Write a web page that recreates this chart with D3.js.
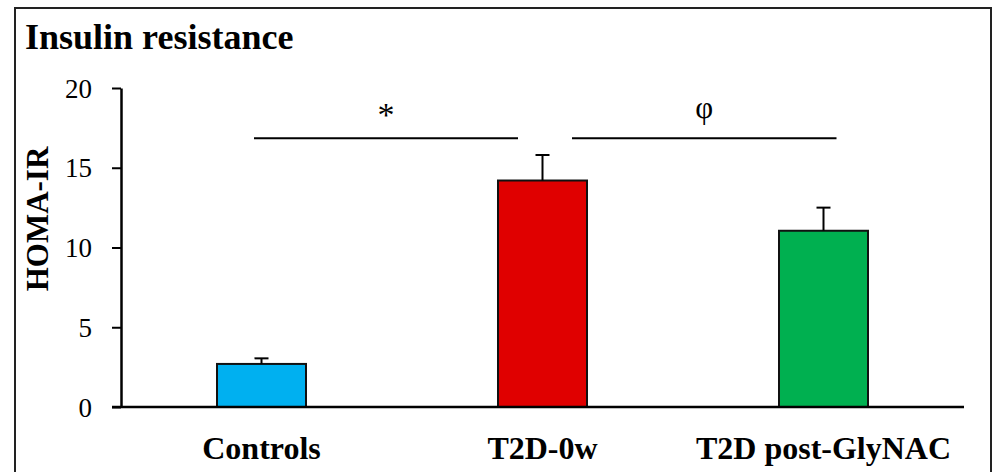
<!DOCTYPE html>
<html>
<head>
<meta charset="utf-8">
<script src="https://cdn.jsdelivr.net/npm/d3@7"></script>
<style>
  body { margin: 0; background: #fff; }
  text { font-family: "Liberation Serif", "Times New Roman", serif; fill: #000; }
</style>
</head>
<body>
<div class="vis-bar"></div>
<script>
const categories = ['Controls', 'T2D-0w', 'T2D post-GlyNAC'];
const means = [2.7, 14.2, 11.05];
const errTops = [3.05, 15.8, 12.5];
const barColors = ['#00B0F0', '#E00000', '#00B050'];
const yTicks = [0, 5, 10, 15, 20];
const brackets = [
    { from: 0, to: 1, level: 16.85, label: '*' },
    { from: 1, to: 2, level: 16.85, label: 'φ' }
];

const W = 1001, H = 472;
const margin = { top: 88, right: 37, bottom: 65, left: 121 };
const width = W - margin.left - margin.right;
const height = H - margin.top - margin.bottom;

const svg = d3.select('.vis-bar')
    .append('svg')
    .attr('width', W)
    .attr('height', H);

// frame round the whole figure
svg.append('rect')
    .attr('x', 15).attr('y', 8)
    .attr('width', 976).attr('height', 470)
    .attr('fill', 'none')
    .attr('stroke', '#222')
    .attr('stroke-width', 2);

svg.append('text')
    .attr('x', 25).attr('y', 49)
    .style('font-size', '36px')
    .style('font-weight', 'bold')
    .text('Insulin resistance');

const g = svg.append('g')
    .attr('transform', 'translate(' + margin.left + ',' + margin.top + ')');

const x = d3.scaleBand()
    .domain(categories)
    .range([0, width])
    .padding(0);

const y = d3.scaleLinear()
    .domain([0, 20])
    .range([height, 0]);

const barW = 89;
const cx = d => x(d) + x.bandwidth() / 2;

// bars
g.selectAll('.bar')
    .data(categories)
    .enter().append('rect')
    .attr('class', 'bar')
    .attr('x', d => cx(d) - barW / 2)
    .attr('y', (d, i) => y(means[i]))
    .attr('width', barW)
    .attr('height', (d, i) => y(0) - y(means[i]))
    .attr('fill', (d, i) => barColors[i])
    .attr('stroke', '#111')
    .attr('stroke-width', 2);

// error bars (upper only)
const capW = 14;
const err = g.selectAll('.err')
    .data(categories)
    .enter().append('g')
    .attr('class', 'err')
    .attr('stroke', '#000')
    .attr('stroke-width', 2);
err.append('line')
    .attr('x1', d => cx(d)).attr('x2', d => cx(d))
    .attr('y1', (d, i) => y(means[i]))
    .attr('y2', (d, i) => y(errTops[i]));
err.append('line')
    .attr('x1', d => cx(d) - capW / 2).attr('x2', d => cx(d) + capW / 2)
    .attr('y1', (d, i) => y(errTops[i]))
    .attr('y2', (d, i) => y(errTops[i]));

// y axis
const yAxis = g.append('g')
    .call(d3.axisLeft(y).tickValues(yTicks).tickSize(9).tickPadding(20).tickSizeOuter(0));
yAxis.select('.domain').attr('stroke-width', 2.5);
yAxis.selectAll('.tick line').attr('stroke-width', 2);
yAxis.selectAll('.tick text')
    .style('font-size', '27px')
    .style('font-family', '"Liberation Serif", serif')
    .attr('dy', '0.34em');

// x axis baseline
g.append('line')
    .attr('x1', -9).attr('x2', width)
    .attr('y1', y(0)).attr('y2', y(0))
    .attr('stroke', '#000')
    .attr('stroke-width', 2.5);

g.selectAll('.xlab')
    .data(categories)
    .enter().append('text')
    .attr('class', 'xlab')
    .attr('x', d => cx(d))
    .attr('y', height + 52)
    .attr('text-anchor', 'middle')
    .style('font-size', '32px')
    .style('font-weight', 'bold')
    .text(d => d);

// y title
svg.append('text')
    .attr('transform', 'translate(48,219) rotate(-90)')
    .attr('text-anchor', 'middle')
    .style('font-size', '31px')
    .style('font-weight', 'bold')
    .text('HOMA-IR');

// significance lines
const offL = [-7.5, 29.5], offR = [-24.5, 13];
brackets.forEach((b, i) => {
    const x1 = cx(categories[b.from]) + offL[i];
    const x2 = cx(categories[b.to]) + offR[i];
    g.append('line')
        .attr('x1', x1).attr('x2', x2)
        .attr('y1', y(b.level)).attr('y2', y(b.level))
        .attr('stroke', '#000')
        .attr('stroke-width', 2);
    g.append('text')
        .attr('x', (x1 + x2) / 2)
        .attr('y', y(b.level) + (b.label === '*' ? -12 : -20))
        .attr('text-anchor', 'middle')
        .style('font-size', b.label === '*' ? '34px' : '31px')
        .text(b.label);
});
</script>
</body>
</html>
